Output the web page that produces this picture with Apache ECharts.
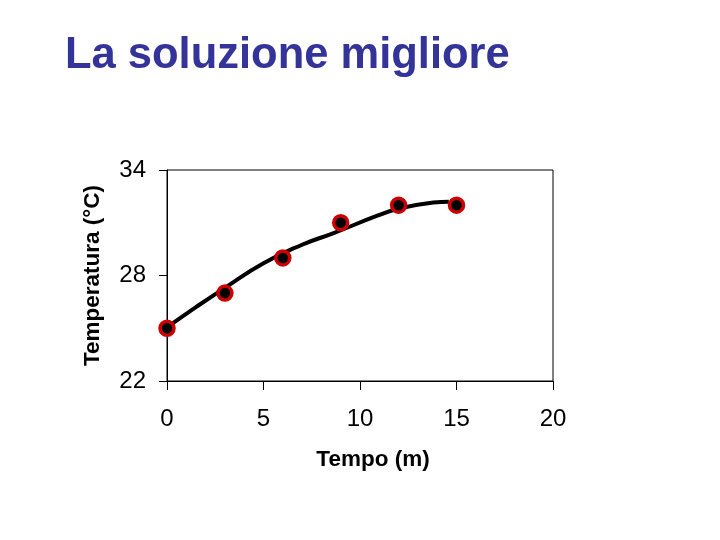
<!DOCTYPE html>
<html>
<head>
<meta charset="utf-8">
<script src="https://cdn.jsdelivr.net/npm/echarts@6/dist/echarts.min.js"></script>
<style>html,body{margin:0;padding:0;background:#fff;}#c{width:720px;height:540px;}</style>
</head>
<body>
<div id="c"></div>
<script>
const titleText = "La soluzione migliore";
const xName = "Tempo (m)";
const yName = "Temperatura (°C)";
const timeMinutes = [0, 3, 6, 9, 12, 15];
const temperatures = [25, 27, 29, 31, 32, 32];
const fitX = [0, 1.5, 3, 5, 7, 8.6, 10.9, 12, 13.8, 14.6];
const fitY = [25.05, 26.2, 27.3, 28.7, 29.75, 30.4, 31.4, 31.8, 32.15, 32.2];

const chart = echarts.init(document.getElementById('c'), null, {renderer: 'canvas'});
const font = '"Liberation Sans", Arial, sans-serif';
chart.setOption({
  animation: false,
  backgroundColor: '#ffffff',
  title: {
    text: titleText, left: 60, top: 29,
    textStyle: {fontFamily: font, fontSize: 43.5, fontWeight: 'bold', color: '#333399'}
  },
  grid: {left: 167, right: 167, top: 170, bottom: 159, show: true, borderColor: '#000', borderWidth: 1, backgroundColor: 'transparent'},
  xAxis: {
    type: 'value', min: 0, max: 20, interval: 5,
    name: xName, nameLocation: 'middle', nameGap: 67,
    nameTextStyle: {fontFamily: font, fontSize: 22.5, fontWeight: 'bold', color: '#000', padding: [0, 0, 0, 26]},
    axisLine: {show: true, lineStyle: {color: '#000', width: 1}},
    axisTick: {show: true, length: 9, lineStyle: {color: '#000'}},
    axisLabel: {fontFamily: font, fontSize: 24, color: '#000', margin: 26},
    splitLine: {show: false}
  },
  yAxis: {
    type: 'value', min: 22, max: 34, interval: 6,
    name: yName, nameLocation: 'middle', nameGap: 63,
    nameTextStyle: {fontFamily: font, fontSize: 22.5, fontWeight: 'bold', color: '#000'},
    axisLine: {show: true, lineStyle: {color: '#000', width: 1}},
    axisTick: {show: true, length: 8, lineStyle: {color: '#000'}},
    axisLabel: {fontFamily: font, fontSize: 24, color: '#000', margin: 21, padding: [5, 0, 0, 0]},
    splitLine: {show: false}
  },
  series: [
    {
      type: 'line', smooth: true, symbol: 'none',
      data: fitX.map((x, i) => [x, fitY[i]]),
      lineStyle: {color: '#000', width: 4}, z: 2
    },
    {
      type: 'scatter', symbol: 'circle', symbolSize: 14,
      data: timeMinutes.map((x, i) => [x, temperatures[i]]),
      itemStyle: {color: '#000', borderColor: '#cc0000', borderWidth: 3.5, opacity: 1}, z: 3
    }
  ]
});
</script>
</body>
</html>
